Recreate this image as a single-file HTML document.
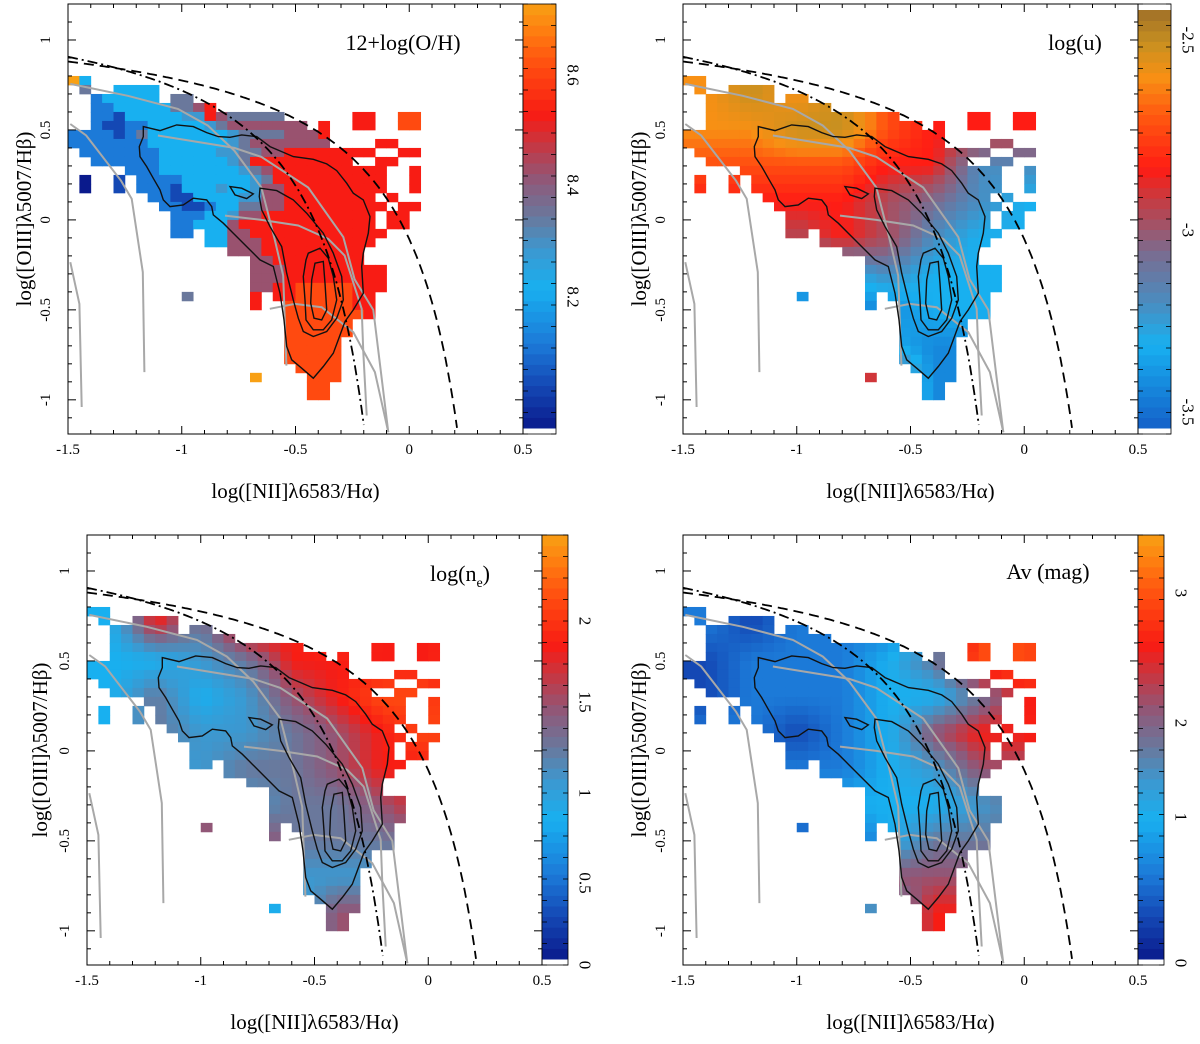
<!DOCTYPE html>
<html><head><meta charset="utf-8"><style>
html,body{margin:0;padding:0;background:#fff;}
svg{display:block;font-family:"Liberation Serif",serif;}
</style></head><body>
<svg id="fig" width="1200" height="1044" viewBox="0 0 1200 1044" xmlns="http://www.w3.org/2000/svg"></svg>
<script>
// ---------- data ----------
const xTicks = [-1.5, -1, -0.5, 0, 0.5];
const xTickLabels = ["-1.5", "-1", "-0.5", "0", "0.5"];
const yTicks = [-1, -0.5, 0, 0.5, 1];
const yTickLabels = ["-1", "-0.5", "0", "0.5", "1"];
const xDomain = [-1.5, 0.5];
const yDomain = [-1.19, 1.2];
// panel 1 heat-map grid (0.05 dex bins; x from -1.5, y rows from 0.8 downward); '.' empty, 0-9,a = colour level
const grid1 = [
"a3................................",
".5..3333..........................",
"..233333.55.......................",
"..22333335567.....................",
"..22133333447655555......77..88...",
"..2112233333456666666.7..77..88...",
"22221253333333455556667...........",
"22222223333333456666666....77.....",
".22222223333344556677777777..77...",
"..22222233333345777777777..77.....",
".....22233333334567777777777..7....",
".0..1.2222333333457777777777..7....",
".0..1.2221333433466777777777..7....",
".......22113333446677777777.7.....",
"........22112335566777777777.77....",
".........222334667777777777.77....",
".........223336777777777777.77....",
".........22.3366777777777777......",
"............336667777777777......",
"..............666777777777........",
"................6677777777........",
"................666777777777......",
"................666777777777......",
"................667788888777......",
"..........5.....7.778888877.......",
"................7..88888877.......",
"...................88888887.......",
"...................888888.........",
"...................888888.........",
"...................88888..........",
"...................88888..........",
"...................88888..........",
"....................8888..........",
"................a....888..........",
".....................88...........",
".....................88..........."
];
// coarse colour-level maps (blocks of 4x4 bins) for the other three quantities
const grid2 = ["898976666","889976666","777766333","666654322","665653222","222232222","111112222","222221111","666661111"];
const grid3 = ["375878777","334577778","353467885","354456787","444556776","444455676","777755566","444444455","333336666"];
const grid4 = ["212222887","122235887","122233577","221236778","222234666","333333455","111135555","666666666","444447777"];
// colour-bar tick labels
const cb1Labels = ["8.6","8.4","8.2"]; const cb1Y = [75,185,297];
const cb2Labels = ["-2.5","-3","-3.5"]; const cb2Y = [40,230,412];
const cb3Labels = ["2","1.5","1","0.5","0"]; const cb3Y = [621,702,793,883,965];
const cb4Labels = ["3","2","1","0"]; const cb4Y = [593,723,817,963];
// photo-ionisation model grid lines (data coords)
const model1x = [-1.49,-1.237,-1.017,-0.885,-0.769,-0.65,-0.592,-0.554,-0.54];
const model1y = [0.756,0.69,0.617,0.524,0.385,0.18,-0.106,-0.31,-0.81];
const model2x = [-1.105,-0.769,-0.65,-0.444,-0.29,-0.24,-0.158,-0.092];
const model2y = [0.469,0.40,0.35,0.18,-0.095,-0.33,-0.50,-1.18];
const model3x = [-0.81,-0.65,-0.488,-0.356,-0.284,-0.209,-0.202,-0.187];
const model3y = [0.024,0.0,-0.031,-0.106,-0.198,-0.494,-0.735,-1.087];
const model4x = [-0.613,-0.503,-0.385,-0.246,-0.151,-0.092];
const model4y = [-0.494,-0.467,-0.485,-0.624,-0.846,-1.18];
const model5x = [-1.49,-1.42,-1.267,-1.22,-1.171,-1.164];
const model5y = [0.533,0.469,0.218,0.117,-0.29,-0.846];
const model6x = [-1.49,-1.45,-1.44];
const model6y = [-0.235,-0.467,-1.04];
// density contours, digitised in reference-figure units (converted below)
const contourOuter = [250,380,300,392,350,375,400,380,440,398,475,410,510,412,545,405,590,410,630,440,665,455,700,470,760,478,800,492,830,512,860,550,880,580,910,600,930,650,925,700,910,760,905,800,910,880,880,930,855,965,835,1020,820,1060,790,1100,760,1135,725,1105,695,1080,680,1040,672,960,660,880,640,800,600,780,560,740,520,700,490,670,460,645,455,620,440,600,400,595,370,615,330,620,310,600,300,570,280,535,260,500,240,470,238,440,250,410];
const contour2 = [600,565,650,572,700,600,740,640,790,700,820,760,845,830,850,900,830,955,800,995,760,1010,730,995,715,955,700,900,680,820,665,740,630,680,605,630,598,590];
const contour3 = [745,760,780,745,805,775,820,830,830,900,815,960,790,990,760,990,738,960,735,900,730,830,738,780];
const contour4 = [765,790,790,785,795,850,800,930,785,960,762,955,752,910,755,840];
const contour5 = [510,560,545,565,580,582,560,596,525,585];

// ---------- helpers ----------
const NS = "http://www.w3.org/2000/svg";
const svg = document.getElementById("fig");
function mk(tag, attrs, parent){const e=document.createElementNS(NS,tag);for(const k in attrs)e.setAttribute(k,attrs[k]);(parent||svg).appendChild(e);return e;}
function hex(h){return [parseInt(h.substr(1,2),16),parseInt(h.substr(3,2),16),parseInt(h.substr(5,2),16)];}
function makeCmap(stops){return function(t){t=Math.max(0,Math.min(1,t));for(let i=1;i<stops.length;i++){if(t<=stops[i][0]){const a=stops[i-1],b=stops[i];const f=(t-a[0])/(b[0]-a[0]);const ca=hex(a[1]),cb=hex(b[1]);return "rgb("+ca.map((v,j)=>Math.round(v+(cb[j]-v)*f)).join(",")+")";}}return stops[stops.length-1][1];};}
const cmapA = makeCmap([[0,'#0a1a8c'],[0.1,'#1448b4'],[0.2,'#1c7ad8'],[0.33,'#18b0f0'],[0.42,'#3c98d0'],[0.5,'#6a789c'],[0.58,'#8c5a7c'],[0.66,'#c03a48'],[0.74,'#f81c14'],[0.85,'#ff4a10'],[0.93,'#ff7a10'],[1,'#f8a014']]);
const cmapB = makeCmap([[0,'#1460c8'],[0.2,'#18b0f0'],[0.3,'#4a8cc0'],[0.42,'#7a6c90'],[0.55,'#c83a40'],[0.62,'#ff1c14'],[0.75,'#ff5a10'],[0.84,'#f89014'],[0.92,'#c89020'],[1,'#a07028']]);
const tmapA = [0,0.1,0.2,0.33,0.42,0.5,0.6,0.74,0.85,0.93,1];
const tmapB = [0,0.1,0.2,0.3,0.42,0.5,0.62,0.72,0.84,0.92,1];
function lev(ch){return ch==='a'?10:parseInt(ch,10);}
function levT(tmap,L){const i=Math.max(0,Math.min(9,Math.floor(L)));const f=Math.min(1,L-i);return tmap[i]+(tmap[Math.min(10,i+1)]-tmap[i])*f;}
function coarseLevel(grid,r,c){
  const u=Math.max(0,Math.min(8,(c-1.5)/4)), v=Math.max(0,Math.min(8,(r-1.5)/4));
  const i0=Math.floor(v), j0=Math.floor(u), i1=Math.min(8,i0+1), j1=Math.min(8,j0+1);
  const fv=v-i0, fu=u-j0;
  const g=(i,j)=>lev(grid[i][j]);
  return (g(i0,j0)*(1-fu)+g(i0,j1)*fu)*(1-fv)+(g(i1,j0)*(1-fu)+g(i1,j1)*fu)*fv;
}
function refToData(zx,zy){return [-1.5+(60+zx/3-68)/227.5,(220-zy/3)/180];}

const panels = [
 {id:"oh", left:68, top:4, grid:null, cmap:cmapA, tmap:tmapA, title:"12+log(O/H)", tx:403, ty:50, cbL:cb1Labels, cbY:cb1Y, ytx:24},
 {id:"u", left:683, top:4, grid:grid2, cmap:cmapB, tmap:tmapB, title:"log(u)", tx:1075, ty:50, cbL:cb2Labels, cbY:cb2Y, ytx:639},
 {id:"ne", left:87, top:535, grid:grid3, cmap:cmapA, tmap:tmapA, title:"log(n", sub:"e", tail:")", tx:460, ty:581, cbL:cb3Labels, cbY:cb3Y, ytx:40},
 {id:"av", left:683, top:535, grid:grid4, cmap:cmapA, tmap:tmapA, title:"Av (mag)", tx:1048, ty:579, cbL:cb4Labels, cbY:cb4Y, ytx:639}
];
const W=455, H=430;

panels.forEach((p,pi)=>{
  const g = mk("g",{});
  
  
  const sx = v => p.left + (v-xDomain[0])/(xDomain[1]-xDomain[0])*W;
  const sy = v => p.top + (yDomain[1]-v)/(yDomain[1]-yDomain[0])*H;
  const clipId = "clip"+pi;
  const cp = mk("clipPath",{id:clipId},g); mk("rect",{x:p.left,y:p.top,width:W,height:H},cp);
  const plot = mk("g",{"clip-path":"url(#"+clipId+")"},g);
  
  
  const cells = mk("g",{},plot);
  
  
  for(let r=0;r<grid1.length;r++){
    for(let c=0;c<34;c++){
      const ch = grid1[r][c];
      if(!ch||ch==='.') continue;
      let L = lev(ch);
      if(p.grid){ L = coarseLevel(p.grid,r,c); }
      const x0=-1.5+0.05*c, y0=0.8-0.05*r;
      const rc = mk("rect",{x:sx(x0).toFixed(2),y:sy(y0).toFixed(2),width:(sx(x0+0.05)-sx(x0)+0.4).toFixed(2),height:(sy(y0-0.05)-sy(y0)+0.4).toFixed(2),fill:p.cmap(levT(p.tmap,L))},cells);
      
      
    }
  }
  [[model1x,model1y],[model2x,model2y],[model3x,model3y],[model4x,model4y],[model5x,model5y],[model6x,model6y]].forEach(m=>{
    const pts=m[0].map((x,i)=>sx(x).toFixed(1)+","+sy(m[1][i]).toFixed(1)).join(" ");
    const pl=mk("polyline",{points:pts,fill:"none",stroke:"#a8a8a8","stroke-width":2},plot);
    
    
  });
  [contourOuter,contour2,contour3,contour4,contour5].forEach(cn=>{
    const pts=[];for(let i=0;i<cn.length;i+=2){const d=refToData(cn[i],cn[i+1]);pts.push(sx(d[0]).toFixed(1)+","+sy(d[1]).toFixed(1));}
    const pg=mk("polygon",{points:pts.join(" "),fill:"none",stroke:"#111","stroke-width":1.4},plot);
    
    
  });
  function curve(fn,xmax){const pts=[];for(let x=-1.5;x<=xmax;x+=0.01){pts.push(sx(x).toFixed(1)+","+sy(fn(x)).toFixed(1));}return pts.join(" ");}
  const kew = mk("polyline",{points:curve(x=>0.61/(x-0.47)+1.19,0.22),fill:"none",stroke:"#000","stroke-width":1.8,"stroke-dasharray":"10,6"},plot);
  
  
  const kau = mk("polyline",{points:curve(x=>0.61/(x-0.05)+1.3,-0.19),fill:"none",stroke:"#000","stroke-width":1.8,"stroke-dasharray":"10,4,2,4"},plot);
  
  
  const fr = mk("rect",{x:p.left,y:p.top,width:W,height:H,fill:"none",stroke:"#000","stroke-width":1},g);
  
  
  for(let k=0;k<=20;k++){const v=-1.5+k*0.1;const X=sx(v);const len=(k%5===0)?8:4;
    mk("line",{x1:X,x2:X,y1:p.top+H,y2:p.top+H-len,stroke:"#000"},g);
    mk("line",{x1:X,x2:X,y1:p.top,y2:p.top+len,stroke:"#000"},g);}
  for(let k=-11;k<=12;k++){const v=k*0.1;const Y=sy(v);const len=(k%5===0)?8:4;
    mk("line",{x1:p.left,x2:p.left+len,y1:Y,y2:Y,stroke:"#000"},g);
    mk("line",{x1:p.left+W,x2:p.left+W-len,y1:Y,y2:Y,stroke:"#000"},g);}
  xTicks.forEach((v,i)=>{const t=mk("text",{x:sx(v),y:p.top+H+20,"text-anchor":"middle","font-size":15},g);t.textContent=xTickLabels[i];
    
    });
  yTicks.forEach((v,i)=>{const X=p.left-22,Y=sy(v);const t=mk("text",{x:X,y:Y,"text-anchor":"middle","font-size":15,"dominant-baseline":"central",transform:"rotate(-90 "+X+" "+Y+")"},g);t.textContent=yTickLabels[i];
    
    });
  const xt=mk("text",{x:p.left+W/2,y:p.top+H+64,"text-anchor":"middle","font-size":21},g);xt.textContent="log([NII]λ6583/Hα)";
  
  
  const yc=p.top+H/2;
  const yt=mk("text",{x:p.ytx,y:yc,"text-anchor":"middle","font-size":21,"dominant-baseline":"central",transform:"rotate(-90 "+p.ytx+" "+yc+")"},g);yt.textContent="log([OIII]λ5007/Hβ)";
  
  
  const pt=mk("text",{x:p.tx,y:p.ty,"text-anchor":"middle","font-size":22},g);
  pt.textContent=p.title;
  if(p.sub){const s=mk("tspan",{"font-size":14,dy:6},pt);s.textContent=p.sub;const tl=mk("tspan",{dy:-6},pt);tl.textContent=p.tail;}
  
  
  const cbx=p.left+W, cbw=(pi===0||pi===1)?33:26, cbTop=p.top+(pi===1?6:0), cbBot=p.top+H-6;
  const cb=mk("g",{},g);
  
  
  const n=40;
  for(let i=0;i<n;i++){const y0=cbBot-(i+1)*(cbBot-cbTop)/n;mk("rect",{x:cbx,y:y0,width:cbw,height:(cbBot-cbTop)/n+0.5,fill:p.cmap((i+0.5)/n)},cb);}
  mk("rect",{x:cbx,y:p.top,width:cbw,height:H,fill:"none",stroke:"#000","stroke-width":0.8},cb);
  for(let k=0;k<=20;k++){const Y=p.top+k*H/20;mk("line",{x1:cbx,x2:cbx+5,y1:Y,y2:Y,stroke:"#000","stroke-width":0.8},cb);mk("line",{x1:cbx+cbw,x2:cbx+cbw-5,y1:Y,y2:Y,stroke:"#000","stroke-width":0.8},cb);}
  p.cbL.forEach((lab,i)=>{const X=cbx+cbw+17,Y=p.cbY[i];const t=mk("text",{x:X,y:Y,"text-anchor":"middle","font-size":17,"dominant-baseline":"central",transform:"rotate(90 "+X+" "+Y+")"},cb);t.textContent=lab;
    
    });
});
</script>
</body></html>
